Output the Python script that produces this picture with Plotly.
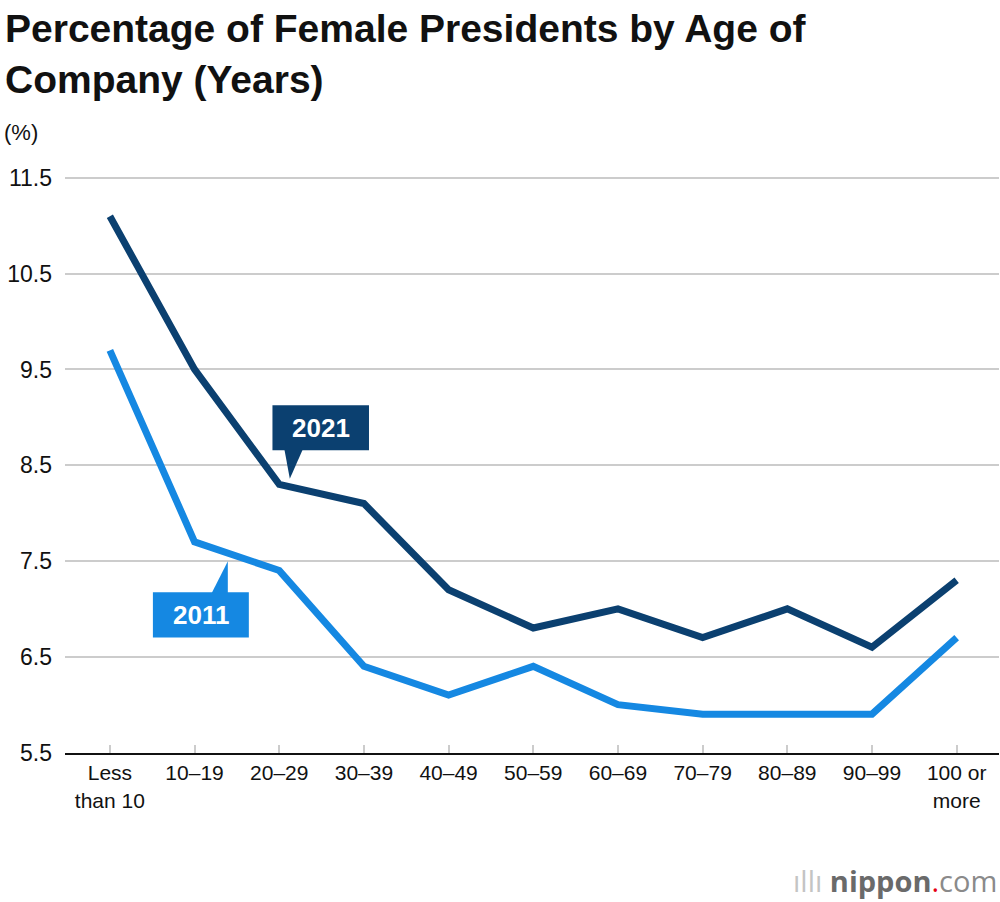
import plotly.graph_objects as go

categories = ["Less<br>than 10", "10–19", "20–29", "30–39", "40–49", "50–59",
              "60–69", "70–79", "80–89", "90–99", "100 or<br>more"]
values_2021 = [11.1, 9.5, 8.3, 8.1, 7.2, 6.8, 7.0, 6.7, 7.0, 6.6, 7.3]
values_2011 = [9.7, 7.7, 7.4, 6.4, 6.1, 6.4, 6.0, 5.9, 5.9, 5.9, 6.7]
y_ticks = [5.5, 6.5, 7.5, 8.5, 9.5, 10.5, 11.5]

C2021 = "#0b4070"
C2011 = "#1588e2"
FONT = "Liberation Sans, Arial, Helvetica, sans-serif"

L, R, T, B = 65, 1, 176, 149
PW, PH = 1000 - L - R, 902 - T - B


def px(xp):
    return (xp - L) / PW


def py(yp):
    return (902 - B - yp) / PH


xi = list(range(len(categories)))

fig = go.Figure()
fig.add_trace(go.Scatter(x=xi, y=values_2011, mode="lines",
                         line=dict(color=C2011, width=7), hoverinfo="skip"))
fig.add_trace(go.Scatter(x=xi, y=values_2021, mode="lines",
                         line=dict(color=C2021, width=7), hoverinfo="skip"))

shapes = []
annotations = []
# 2021 callout
shapes.append(dict(type="rect", xref="x", yref="y", x0=1.92, x1=3.06, y0=8.657, y1=9.127,
                   fillcolor=C2021, line=dict(width=0), layer="above"))
shapes.append(dict(type="path", xref="x", yref="y",
                   path="M 2.06 8.67 L 2.125 8.36 L 2.28 8.67 Z",
                   fillcolor=C2021, line=dict(width=0), layer="above"))
annotations.append(dict(x=2.49, y=8.892, xref="x", yref="y", text="<b>2021</b>", showarrow=False,
                        font=dict(family=FONT, size=26, color="white")))
# 2011 callout
shapes.append(dict(type="rect", xref="x", yref="y", x0=0.508, x1=1.641, y0=6.702, y1=7.173,
                   fillcolor=C2011, line=dict(width=0), layer="above"))
shapes.append(dict(type="path", xref="x", yref="y",
                   path="M 1.2 7.16 L 1.393 7.497 L 1.393 7.16 Z",
                   fillcolor=C2011, line=dict(width=0), layer="above"))
annotations.append(dict(x=1.075, y=6.937, xref="x", yref="y", text="<b>2011</b>", showarrow=False,
                        font=dict(family=FONT, size=26, color="white")))

# title
annotations.append(dict(x=px(3), y=py(5), xref="paper", yref="paper", xanchor="left", yanchor="top",
                        text="<b>Percentage of Female Presidents by Age of<br>Company (Years)</b>",
                        showarrow=False, align="left",
                        font=dict(family=FONT, size=39, color="#111111")))
# unit label
annotations.append(dict(x=px(2), y=py(133), xref="paper", yref="paper",
                        xanchor="left", yanchor="middle", text="(%)", showarrow=False,
                        font=dict(family=FONT, size=22, color="#111111")))
# logo
annotations.append(dict(x=px(999), y=py(880), xref="paper", yref="paper",
                        xanchor="right", yanchor="middle", showarrow=False,
                        text="<span style='color:#c4c4c4'>ıllı </span>"
                             "<b><span style='color:#6a6a6a'>nippon</span></b>"
                             "<span style='color:#e60012'>.</span>"
                             "<span style='color:#8a8a8a'>com</span>",
                        font=dict(family="Open Sans, sans-serif", size=29)))

fig.update_layout(
    width=1000, height=902,
    margin=dict(l=L, r=R, t=T, b=B),
    paper_bgcolor="white", plot_bgcolor="white",
    showlegend=False,
    shapes=shapes, annotations=annotations,
    font=dict(family=FONT, size=21, color="#111111"),
)
fig.update_xaxes(
    range=[-0.53, 10.5], tickmode="array", tickvals=xi, ticktext=categories,
    showgrid=False, zeroline=False, showline=True, linecolor="#111111", linewidth=2,
    ticks="inside", ticklen=8, tickcolor="#cccccc", tickwidth=2,
    tickfont=dict(family=FONT, size=21, color="#111111"), fixedrange=True,
)
fig.update_yaxes(
    range=[5.495, 11.52], tickmode="array", tickvals=y_ticks,
    ticktext=[f"{v:.1f}" for v in y_ticks],
    showgrid=True, gridcolor="#cccccc", gridwidth=2, zeroline=False, showline=False,
    ticks="", ticklabelstandoff=12,
    tickfont=dict(family=FONT, size=23, color="#111111"), fixedrange=True,
)

fig.write_html("out.html", config={"displayModeBar": False},
               post_script="document.body.style.margin='0';document.body.style.overflow='hidden';")
